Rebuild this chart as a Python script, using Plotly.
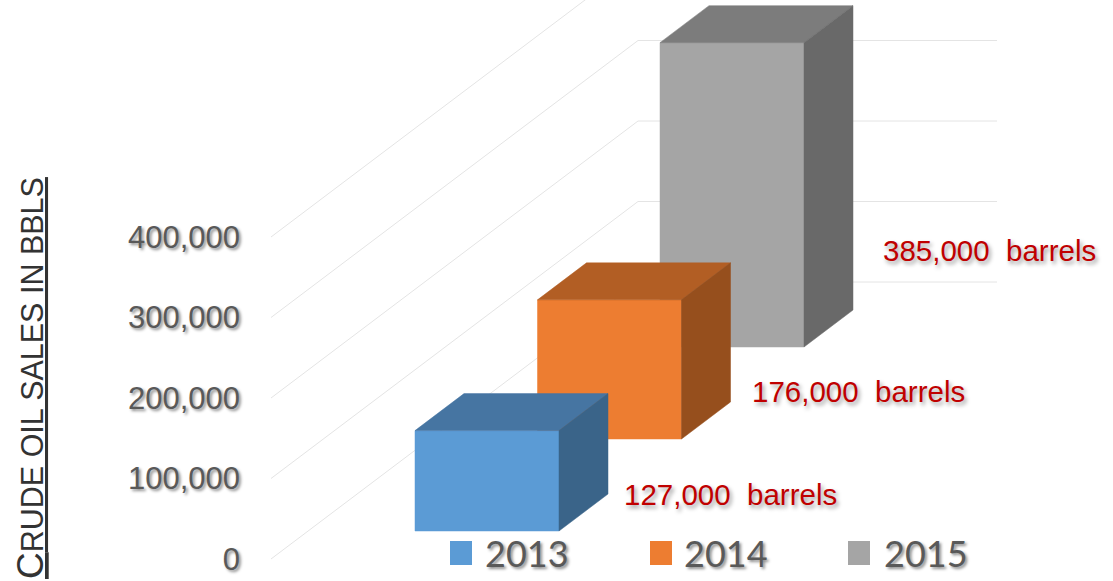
import plotly.graph_objects as go

# Sales figures
categories = ["2013", "2014", "2015"]
barrels = [127000, 176000, 385000]
tick_values = [0, 100000, 200000, 300000, 400000]
axis_title = "CRUDE OIL SALES IN BBLS"

# Face colours per year
front_colors = ["#5B9BD5", "#ED7D31", "#A5A5A5"]
top_colors = ["#4675A2", "#B25E24", "#7C7C7C"]
side_colors = ["#3A6489", "#964F1D", "#696969"]

# Page geometry
WIDTH, HEIGHT = 1113, 581
PLOT_LEFT = 271
PX_PER_STEP = 122.5          # horizontal pixels between neighbouring years
PX_PER_BARREL = 0.805 / 1000
FIRST_BAR_PX = 415           # left edge of the nearest bar
ZERO_PX = 559                # pixel row of value 0 at the front of the floor

# Oblique projection, in axis units
BAR_WIDTH = 144 / PX_PER_STEP
DEPTH_DX = 49 / PX_PER_STEP
DEPTH_DV = 37 / PX_PER_BARREL
STEP_DV = 92 / PX_PER_BARREL
FLOOR_DV = 28 / PX_PER_BARREL
BAR_FORESHORTEN = 0.982
WALL_DX = (638 - PLOT_LEFT) / PX_PER_STEP
WALL_DV = 277 / PX_PER_BARREL
WALL_END = (997 - FIRST_BAR_PX) / PX_PER_STEP
X_MIN = (PLOT_LEFT - FIRST_BAR_PX) / PX_PER_STEP
X_MAX = (WIDTH - FIRST_BAR_PX) / PX_PER_STEP
Y_MIN = (ZERO_PX - HEIGHT) / PX_PER_BARREL
Y_MAX = ZERO_PX / PX_PER_BARREL


def paper_x(px):
    return (px - PLOT_LEFT) / (WIDTH - PLOT_LEFT)


def paper_y(px):
    return 1 - px / HEIGHT


fig = go.Figure()


def add_face(xs, ys, color, name):
    fig.add_trace(go.Scatter(
        x=xs + xs[:1], y=ys + ys[:1], mode="lines", fill="toself",
        fillcolor=color, line=dict(color=color, width=0.5),
        name=name, showlegend=False, hoverinfo="name",
    ))


# Floor-to-wall gridlines: diagonal along the side wall, flat along the back wall
for v in tick_values:
    fig.add_trace(go.Scatter(
        x=[X_MIN, X_MIN + WALL_DX, WALL_END],
        y=[v, v + WALL_DV, v + WALL_DV],
        mode="lines", line=dict(color="#E4E4E4", width=1),
        showlegend=False, hoverinfo="skip",
    ))

# Bars, painted from the far one to the near one
for i in reversed(range(len(categories))):
    x0 = float(i)
    x1 = x0 + BAR_WIDTH
    base = FLOOR_DV + i * STEP_DV
    top = base + barrels[i] * BAR_FORESHORTEN
    name = f"{categories[i]}: {barrels[i]:,}"
    add_face([x0, x1, x1, x0], [base, base, top, top], front_colors[i], name)
    add_face([x0, x1, x1 + DEPTH_DX, x0 + DEPTH_DX],
             [top, top, top + DEPTH_DV, top + DEPTH_DV], top_colors[i], name)
    add_face([x1, x1 + DEPTH_DX, x1 + DEPTH_DX, x1],
             [base, base + DEPTH_DV, top + DEPTH_DV, top], side_colors[i], name)

# Value captions beside each bar
caption_shift = [(63, 37), (68, 48), (77, 97)]
annotations = []
for i, v in enumerate(barrels):
    annotations.append(dict(
        x=i + BAR_WIDTH, y=FLOOR_DV + i * STEP_DV, xref="x", yref="y",
        text=f"{v:,}\u00a0\u00a0barrels", showarrow=False,
        xanchor="left", yanchor="middle",
        xshift=caption_shift[i][0], yshift=caption_shift[i][1],
        font=dict(family="Liberation Sans", size=29.5, color="#C00000",
                  shadow="2px 3px 4px rgba(0,0,0,0.4)"),
    ))

# Axis title
annotations.append(dict(
    x=paper_x(30), y=paper_y(378), xref="paper", yref="paper",
    text=f'<span style="font-size:37px">{axis_title[0]}</span>{axis_title[1:]}',
    textangle=-90, showarrow=False, xanchor="center", yanchor="middle",
    font=dict(family="Liberation Sans", size=30.5, color="#333333",
              lineposition="under"),
))

# Legend row
swatch_left = [450, 650, 848]
label_left = [483, 682, 882]
shapes = []
for i, year in enumerate(categories):
    shapes.append(dict(
        type="rect", xref="paper", yref="paper", layer="above",
        x0=paper_x(swatch_left[i]), x1=paper_x(swatch_left[i] + 22),
        y0=paper_y(565), y1=paper_y(541),
        fillcolor=front_colors[i], line=dict(width=0),
    ))
    annotations.append(dict(
        x=paper_x(label_left[i]), y=paper_y(553), xref="paper", yref="paper",
        text=year, showarrow=False, xanchor="left", yanchor="middle",
        font=dict(family="Lato, Noto Sans", size=36, color="#595959",
                  shadow="2px 2px 3px rgba(0,0,0,0.45)"),
    ))

fig.update_layout(
    width=WIDTH, height=HEIGHT,
    margin=dict(l=PLOT_LEFT, r=0, t=0, b=0, autoexpand=False),
    paper_bgcolor="white", plot_bgcolor="white",
    showlegend=False,
    annotations=annotations, shapes=shapes,
    xaxis=dict(range=[X_MIN, X_MAX], visible=False, fixedrange=True),
    yaxis=dict(
        range=[Y_MIN, Y_MAX], tickvals=tick_values, tickformat=",",
        showgrid=False, zeroline=False, showline=False, ticks="",
        ticklabelstandoff=30, fixedrange=True,
        tickfont=dict(family="Liberation Sans", size=31, color="#595959",
                      shadow="2px 2px 3px rgba(0,0,0,0.45)"),
    ),
)

fig.write_html("out.html", config={"displayModeBar": False})
